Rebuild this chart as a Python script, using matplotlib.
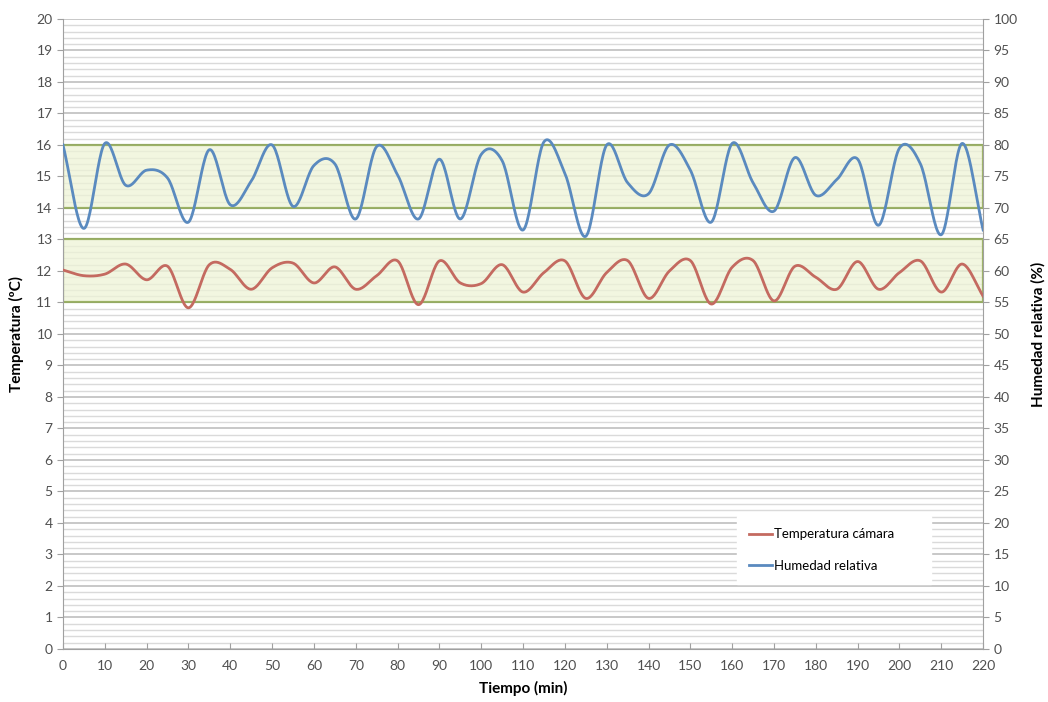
import numpy as np
import matplotlib
matplotlib.use("Agg")
import matplotlib.pyplot as plt
from matplotlib.patches import Rectangle

# data, one reading every 5 min
tiempo = list(range(0, 225, 5))
temperatura = [12.03, 11.85, 11.9, 12.22, 11.72, 12.15, 10.83, 12.2, 12.05, 11.42,
               12.1, 12.25, 11.62, 12.13, 11.42, 11.85, 12.32, 10.93, 12.32, 11.62,
               11.6, 12.2, 11.33, 11.95, 12.32, 11.13, 11.95, 12.33, 11.13, 12.0,
               12.33, 10.95, 12.12, 12.33, 11.05, 12.15, 11.8, 11.42, 12.3, 11.42,
               11.95, 12.32, 11.33, 12.22, 11.2]
humedad = [80.0, 66.75, 80.25, 73.6, 76.0, 74.75, 67.75, 79.25, 70.5, 74.25,
           80.0, 70.25, 76.75, 77.0, 68.25, 79.75, 75.25, 68.25, 77.75, 68.25,
           78.5, 77.5, 66.5, 80.5, 75.5, 65.5, 80.0, 74.0, 72.25, 80.0,
           76.0, 67.75, 80.25, 74.0, 69.5, 78.0, 72.0, 74.5, 77.75, 67.25,
           79.5, 77.0, 65.75, 80.25, 66.5]

# bandas de referencia
banda_temp = (11, 13)
banda_hum = (70, 80)

plt.rcParams['font.family'] = ['Lato', 'DejaVu Sans']


def suavizar(x, y, n=24):
    # curva tipo Catmull-Rom, como las lineas suavizadas de Excel
    x = np.asarray(x, float)
    y = np.asarray(y, float)
    px = np.concatenate([[2 * x[0] - x[1]], x, [2 * x[-1] - x[-2]]])
    py = np.concatenate([[2 * y[0] - y[1]], y, [2 * y[-1] - y[-2]]])
    xs, ys = [], []
    t = np.linspace(0, 1, n, endpoint=False)
    for i in range(1, len(px) - 2):
        for p, out in ((px, xs), (py, ys)):
            p0, p1, p2, p3 = p[i - 1], p[i], p[i + 1], p[i + 2]
            out.append(0.5 * ((2 * p1) + (-p0 + p2) * t
                              + (2 * p0 - 5 * p1 + 4 * p2 - p3) * t ** 2
                              + (-p0 + 3 * p1 - 3 * p2 + p3) * t ** 3))
    xs.append([x[-1]])
    ys.append([y[-1]])
    return np.concatenate(xs), np.concatenate(ys)


fig = plt.figure(figsize=(10.48, 7.02), dpi=100)
ax = fig.add_axes([0.0601, 0.0755, 0.878, 0.8975])
ax2 = ax.twinx()

ax.set_xlim(0, 220)
ax.set_ylim(0, 20)
ax2.set_ylim(0, 100)

# rejilla
for v in np.arange(0, 20.01, 0.2):
    major = abs(v - round(v)) < 1e-6
    ax.axhline(v, color='#c4c4c4' if major else '#dadada', lw=1.3 if major else 1.0, zorder=0)

# bandas verdes
ax.add_patch(Rectangle((0, banda_temp[0]), 220, banda_temp[1] - banda_temp[0],
                       facecolor='#eef3d6', alpha=0.75, edgecolor='#84a042', lw=1.6, zorder=1))
ax.add_patch(Rectangle((0, banda_hum[0] / 5), 220, (banda_hum[1] - banda_hum[0]) / 5,
                       facecolor='#eef3d6', alpha=0.75, edgecolor='#84a042', lw=1.6, zorder=1))

xt, yt = suavizar(tiempo, temperatura)
l1, = ax.plot(xt, yt, color='#c46a60', lw=2, zorder=3, label='Temperatura cámara')
xh, yh = suavizar(tiempo, humedad)
l2, = ax2.plot(xh, yh, color='#5a8abf', lw=2, zorder=3, label='Humedad relativa')

ax.set_xticks(range(0, 221, 10))
ax.set_yticks(range(0, 21))
ax2.set_yticks(range(0, 101, 5))

for a in (ax, ax2):
    for s in a.spines.values():
        s.set_visible(False)
    a.tick_params(colors='#a0a0a0', labelcolor='#505050', labelsize=10, length=4)
ax.spines['left'].set_visible(True)
ax.spines['bottom'].set_visible(True)
ax2.spines['right'].set_visible(True)
for s in (ax.spines['left'], ax.spines['bottom'], ax2.spines['right']):
    s.set_color('#a0a0a0')
ax.tick_params(axis='x', direction='in', pad=8)

ax.set_xlabel('Tiempo (min)', fontweight='bold', fontsize=11, labelpad=6)
ax.set_ylabel('Temperatura (ºC)', fontweight='bold', fontsize=11, labelpad=9)
ax2.set_ylabel('Humedad relativa (%)', fontweight='bold', fontsize=11, labelpad=10)

leg = ax2.legend(handles=[l1, l2], loc='lower left', bbox_to_anchor=(0.725, 0.093, 0.225, 0.115),
                 mode='expand', frameon=True, fancybox=False, fontsize=9.5,
                 handlelength=1.8, handletextpad=0.15, labelspacing=1.5, borderpad=0.9)
leg.get_frame().set_edgecolor('white')
leg.get_frame().set_facecolor('white')
leg.get_frame().set_alpha(1)

fig.savefig('out.png', dpi=100)
